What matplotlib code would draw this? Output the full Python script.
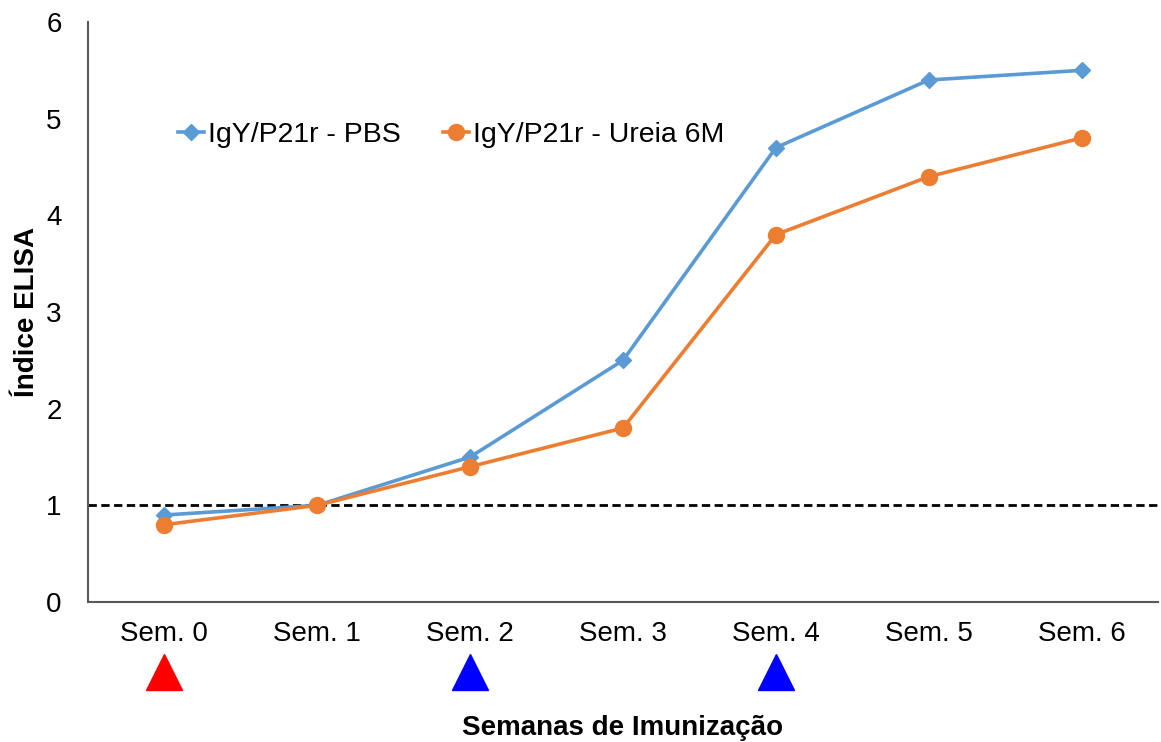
import matplotlib
matplotlib.use("Agg")
import matplotlib.pyplot as plt

categories = ["Sem. 0", "Sem. 1", "Sem. 2", "Sem. 3", "Sem. 4", "Sem. 5", "Sem. 6"]
pbs = [0.9, 1.0, 1.5, 2.5, 4.7, 5.4, 5.5]
ureia = [0.8, 1.0, 1.4, 1.8, 3.8, 4.4, 4.8]
cutoff = 1.0
y_ticks = [0, 1, 2, 3, 4, 5, 6]
red_marks = [0]
blue_marks = [2, 4]

plt.rcParams['font.family'] = ['Liberation Sans', 'DejaVu Sans']

fig = plt.figure(figsize=(11.61, 7.42), dpi=100)
ax = fig.add_axes([88/1161, 1-602/742, 1070/1161, 580/742])

x = list(range(len(categories)))
ax.axhline(cutoff, color='black', linestyle=(0, (3, 1.6)), linewidth=2.0, zorder=1)
ax.plot(x, pbs, color='#5B9BD5', linewidth=2.6, marker='D', markersize=8,
        label='IgY/P21r - PBS', zorder=3)
ax.plot(x, ureia, color='#ED7D31', linewidth=2.6, marker='o', markersize=11.5,
        label='IgY/P21r - Ureia 6M', zorder=3)

ax.set_xlim(-0.5, 6.5)
ax.set_ylim(0, 6)
ax.set_yticks(y_ticks)
ax.set_xticks(x)
ax.set_xticklabels(categories, fontsize=20)
ax.tick_params(axis='y', labelsize=20, length=0, pad=19)
ax.tick_params(axis='x', length=0, pad=14)
for s in ['top', 'right']:
    ax.spines[s].set_visible(False)
for s in ['left', 'bottom']:
    ax.spines[s].set_color('#595959')
    ax.spines[s].set_linewidth(1.5)

trans = ax.get_xaxis_transform()
ax.plot(red_marks, [-0.121] * len(red_marks), linestyle='none', marker='^',
        markersize=26, color='#FF0000', transform=trans, clip_on=False)
ax.plot(blue_marks, [-0.121] * len(blue_marks), linestyle='none', marker='^',
        markersize=26, color='#0000FF', transform=trans, clip_on=False)

ax.set_ylabel('Índice ELISA', fontsize=20, fontweight='bold')
ax.yaxis.set_label_coords(-(88 - 27) / 1070, 0.5)
ax.set_xlabel('Semanas de Imunização', fontsize=20, fontweight='bold')
ax.xaxis.set_label_coords(0.5, -(728 - 602) / 580)
ax.xaxis.label.set_verticalalignment('center')
ax.yaxis.label.set_verticalalignment('center')

ax.legend(loc='center left', bbox_to_anchor=(0.084, 0.805), ncol=2, frameon=False,
          fontsize=20.5, handlelength=0.9, handletextpad=0.15, columnspacing=1.5,
          borderpad=0, borderaxespad=0)

fig.savefig('out.png', dpi=100)
